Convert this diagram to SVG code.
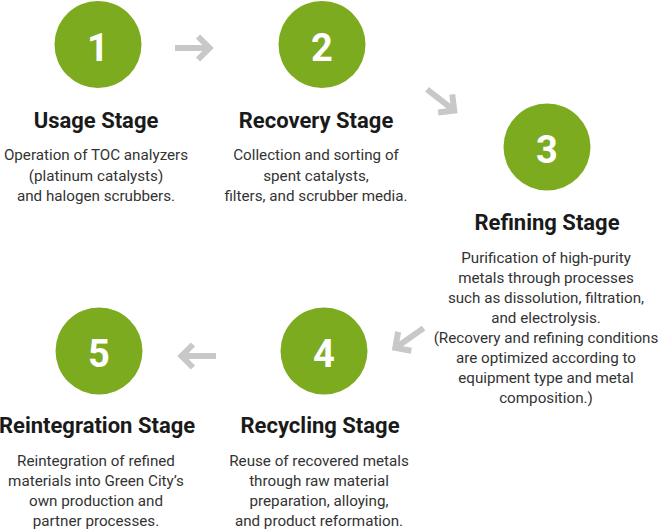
<svg xmlns="http://www.w3.org/2000/svg" width="658" height="529" viewBox="0 0 658 529">
<style>
.c{fill:#7dab20}
.n{font-family:Roboto,"Liberation Sans",sans-serif;font-weight:700;font-size:38px;fill:#fff;text-anchor:middle}
.t{font-family:Roboto,"Liberation Sans",sans-serif;font-weight:700;font-size:22px;fill:#1a1a1a;text-anchor:middle}
.d{font-family:Roboto,"Liberation Sans",sans-serif;font-size:15.2px;fill:#333;text-anchor:middle}
.a{fill:none;stroke:#c8c8c8;stroke-width:6}
</style>
<defs>
<path id="arr" d="M-19,0 H16 M4,-11.5 L15.5,0 L4,11.5"/>
</defs>
<rect width="658" height="529" fill="#fff"/>
<g id="connectors">
<use href="#arr" class="a" transform="translate(194,48)"/>
<use href="#arr" class="a" transform="translate(442,101) rotate(38)"/>
<use href="#arr" class="a" transform="translate(408,339) rotate(145)"/>
<use href="#arr" class="a" transform="translate(197,356) rotate(180)"/>
</g>
<g id="node1">
<circle class="c" cx="98" cy="44.5" r="43.5"/>
<text class="n" x="98" y="60.5">1</text>
<text class="t" x="96" y="127.5">Usage Stage</text>
<text class="d" x="96" y="160">Operation of TOC analyzers</text>
<text class="d" x="96" y="180.5">(platinum catalysts)</text>
<text class="d" x="96" y="201">and halogen scrubbers.</text>
</g>
<g id="node2">
<circle class="c" cx="322" cy="44.5" r="43.5"/>
<text class="n" x="322" y="60.5">2</text>
<text class="t" x="316" y="127.5">Recovery Stage</text>
<text class="d" x="316" y="160">Collection and sorting of</text>
<text class="d" x="316" y="180.5">spent catalysts,</text>
<text class="d" x="316" y="201">filters, and scrubber media.</text>
</g>
<g id="node3">
<circle class="c" cx="547" cy="147" r="43.5"/>
<text class="n" x="547" y="162.5">3</text>
<text class="t" x="547" y="230">Refining Stage</text>
<text class="d" x="546" y="263">Purification of high-purity</text>
<text class="d" x="546" y="283">metals through processes</text>
<text class="d" x="546" y="303">such as dissolution, filtration,</text>
<text class="d" x="546" y="323">and electrolysis.</text>
<text class="d" x="546" y="343">(Recovery and refining conditions</text>
<text class="d" x="546" y="363">are optimized according to</text>
<text class="d" x="546" y="383">equipment type and metal</text>
<text class="d" x="546" y="403">composition.)</text>
</g>
<g id="node4">
<circle class="c" cx="324" cy="351" r="43.5"/>
<text class="n" x="324" y="366.5">4</text>
<text class="t" x="320" y="433">Recycling Stage</text>
<text class="d" x="319" y="466">Reuse of recovered metals</text>
<text class="d" x="319" y="486">through raw material</text>
<text class="d" x="319" y="506">preparation, alloying,</text>
<text class="d" x="319" y="526">and product reformation.</text>
</g>
<g id="node5">
<circle class="c" cx="99" cy="351" r="43.5"/>
<text class="n" x="99" y="366.5">5</text>
<text class="t" x="97" y="433">Reintegration Stage</text>
<text class="d" x="96" y="466">Reintegration of refined</text>
<text class="d" x="96" y="486">materials into Green City’s</text>
<text class="d" x="96" y="506">own production and</text>
<text class="d" x="96" y="526">partner processes.</text>
</g>
</svg>
